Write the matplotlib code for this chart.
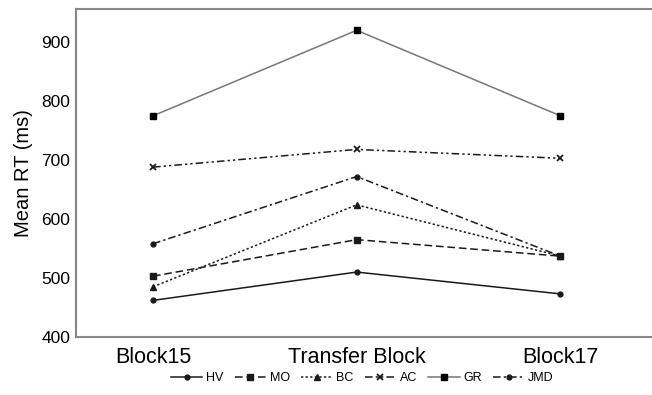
import numpy as np
import matplotlib
matplotlib.use("Agg")
from matplotlib import pyplot as plt

plt.rcParams['font.family'] = ['Liberation Sans', 'DejaVu Sans']

blocks = ["Block15", "Transfer Block", "Block17"]

hv = [462, 510, 473]
mo = [503, 565, 537]
bc = [485, 624, 537]
ac = [688, 718, 703]
gr = [775, 920, 775]
jmd = [558, 672, 537]

x = np.arange(len(blocks))

fig = plt.figure(figsize=(6.52, 3.95), dpi=100)
ax = fig.add_axes([0.1166, 0.147, 0.8834, 0.83])

dark = "#1a1a1a"
ax.plot(x, hv, color=dark, ls="-", lw=1.1, marker="o", ms=3.5, label="HV")
ax.plot(x, mo, color=dark, ls=(0, (5, 2.5)), lw=1.1, marker="s", ms=4.5, label="MO")
ax.plot(x, bc, color=dark, ls=(0, (1.5, 1.5)), lw=1.1, marker="^", ms=4.5, label="BC")
ax.plot(x, ac, color=dark, ls=(0, (5, 2, 1.5, 2, 1.5, 2)), lw=1.1, marker="x", ms=4, mew=1.3, label="AC")
ax.plot(x, gr, color="#777777", ls="-", lw=1.1, marker="s", ms=5, mfc="black", mec="black", label="GR")
ax.plot(x, jmd, color=dark, ls=(0, (5, 2, 1.5, 2)), lw=1.1, marker="o", ms=3.5, label="JMD")

ax.set_xlim(-0.378, 2.45)
ax.set_ylim(400, 956)
ax.set_xticks(x)
ax.set_xticklabels(blocks, fontsize=15.5)
ax.set_yticks(np.arange(400, 901, 100))
ax.tick_params(axis="y", labelsize=12.5, length=0, pad=4)
ax.tick_params(axis="x", length=0, pad=7)
ax.set_ylabel("Mean RT (ms)", fontsize=14.5, labelpad=6)

for side in ["left", "top", "bottom"]:
    ax.spines[side].set_color("#888888")
    ax.spines[side].set_linewidth(1.5)
ax.spines["right"].set_visible(False)

fig.legend(loc="center", bbox_to_anchor=(0.556, 0.043), ncol=6, frameon=False,
           fontsize=9, handlelength=2.5, handletextpad=0.3, columnspacing=0.9)

fig.savefig("out.png", dpi=100)
